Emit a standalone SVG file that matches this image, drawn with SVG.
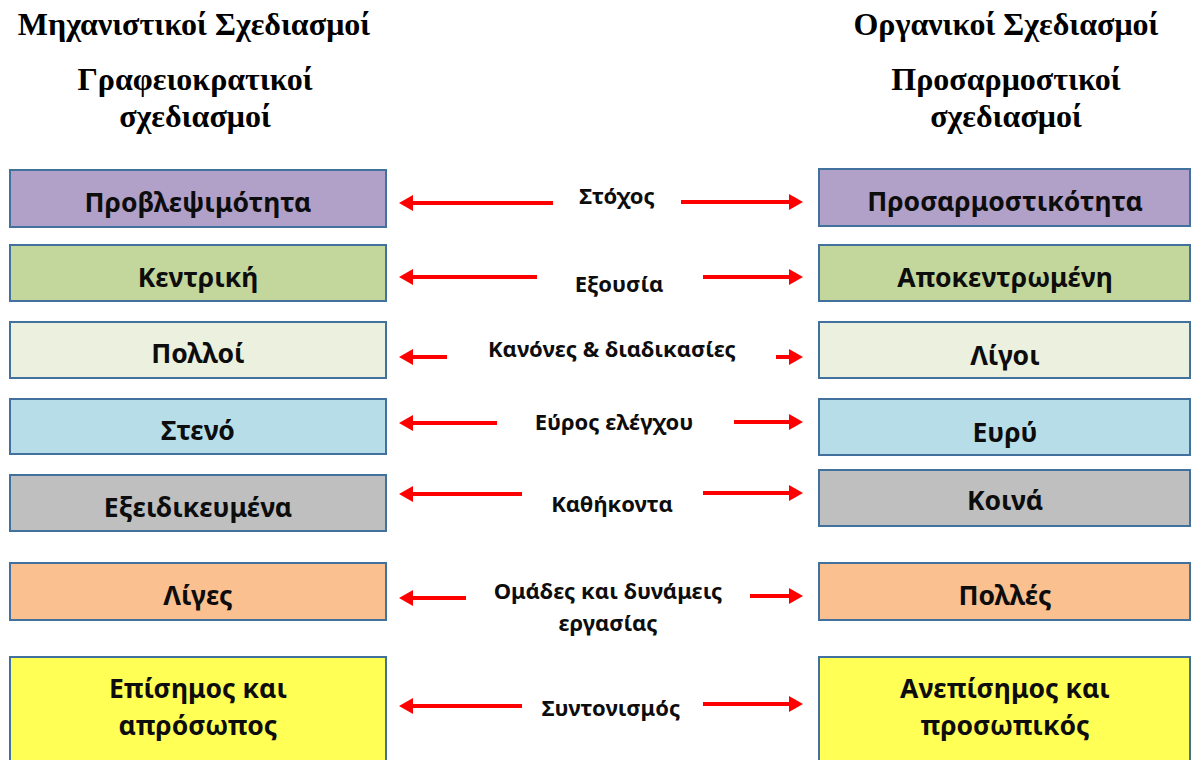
<svg xmlns="http://www.w3.org/2000/svg" width="1192" height="760" viewBox="0 0 1192 760">
  <style>
    .hdr { font-family: "Liberation Serif", "Times New Roman", serif; font-weight: bold; font-size: 32px; fill: #000; text-anchor: middle; }
    .box { stroke: #41719C; stroke-width: 2; }
    .lbl { font-family: "Noto Sans", "Open Sans", "DejaVu Sans", sans-serif; font-weight: bold; font-size: 26.5px; fill: #0D0D0D; text-anchor: middle; }
    .mid { font-family: "Noto Sans", "Open Sans", "DejaVu Sans", sans-serif; font-weight: bold; font-size: 22px; fill: #0D0D0D; text-anchor: middle; }
    .arr { stroke: #FF0000; stroke-width: 4; fill: none; marker-end: url(#head); }
    .purple { fill: #B1A0C7; }
    .green { fill: #C3D69B; }
    .pale { fill: #EBF1DE; }
    .blue { fill: #B7DEE8; }
    .grey { fill: #BFBFBF; }
    .orange { fill: #FAC090; }
    .yellow { fill: #FFFF55; }
  </style>
  <defs>
    <marker id="head" markerUnits="userSpaceOnUse" markerWidth="14" markerHeight="16" viewBox="0 0 14 16" refX="0" refY="8" orient="auto">
      <path d="M0,0 L14,8 L0,16 z" fill="#FF0000"/>
    </marker>
  </defs>
  <rect width="1192" height="760" fill="#FFFFFF"/>

  <!-- column headings -->
  <g id="heading-left">
    <text class="hdr" x="194" y="35">Μηχανιστικοί Σχεδιασμοί</text>
    <text class="hdr" x="195" y="90">Γραφειοκρατικοί</text>
    <text class="hdr" x="195" y="127">σχεδιασμοί</text>
  </g>
  <g id="heading-right">
    <text class="hdr" x="1006" y="35">Οργανικοί Σχεδιασμοί</text>
    <text class="hdr" x="1006" y="90">Προσαρμοστικοί</text>
    <text class="hdr" x="1006" y="127">σχεδιασμοί</text>
  </g>

  <!-- left column -->
  <g id="left-1"><rect class="box purple" x="10" y="170" width="376" height="57"/><text class="lbl" x="198" y="212">Προβλεψιμότητα</text></g>
  <g id="left-2"><rect class="box green" x="10" y="245" width="376" height="56"/><text class="lbl" x="198" y="287">Κεντρική</text></g>
  <g id="left-3"><rect class="box pale" x="10" y="322" width="376" height="56"/><text class="lbl" x="198" y="363">Πολλοί</text></g>
  <g id="left-4"><rect class="box blue" x="10" y="399" width="376" height="55"/><text class="lbl" x="198" y="440">Στενό</text></g>
  <g id="left-5"><rect class="box grey" x="10" y="475" width="376" height="56"/><text class="lbl" x="198" y="517">Εξειδικευμένα</text></g>
  <g id="left-6"><rect class="box orange" x="10" y="563" width="376" height="57"/><text class="lbl" x="198" y="605">Λίγες</text></g>
  <g id="left-7"><rect class="box yellow" x="10" y="657" width="376" height="110"/><text class="lbl" x="198" y="698">Επίσημος και</text><text class="lbl" x="198" y="735">απρόσωπος</text></g>

  <!-- right column -->
  <g id="right-1"><rect class="box purple" x="819" y="169" width="371" height="57"/><text class="lbl" x="1005" y="211">Προσαρμοστικότητα</text></g>
  <g id="right-2"><rect class="box green" x="819" y="245" width="371" height="56"/><text class="lbl" x="1005" y="287">Αποκεντρωμένη</text></g>
  <g id="right-3"><rect class="box pale" x="819" y="322" width="371" height="56"/><text class="lbl" x="1005" y="365">Λίγοι</text></g>
  <g id="right-4"><rect class="box blue" x="819" y="399" width="371" height="56"/><text class="lbl" x="1005" y="442">Ευρύ</text></g>
  <g id="right-5"><rect class="box grey" x="819" y="470" width="371" height="56"/><text class="lbl" x="1005" y="510">Κοινά</text></g>
  <g id="right-6"><rect class="box orange" x="819" y="563" width="371" height="57"/><text class="lbl" x="1005" y="605">Πολλές</text></g>
  <g id="right-7"><rect class="box yellow" x="819" y="657" width="371" height="110"/><text class="lbl" x="1005" y="698">Ανεπίσημος και</text><text class="lbl" x="1005" y="735">προσωπικός</text></g>

  <!-- dimension labels -->
  <g id="dimensions">
    <text class="mid" x="617" y="204">Στόχος</text>
    <text class="mid" x="619" y="292">Εξουσία</text>
    <text class="mid" x="612" y="357">Κανόνες &amp; διαδικασίες</text>
    <text class="mid" x="614" y="430">Εύρος ελέγχου</text>
    <text class="mid" x="612" y="512">Καθήκοντα</text>
    <text class="mid" x="608" y="599">Ομάδες και δυνάμεις</text>
    <text class="mid" x="608" y="631">εργασίας</text>
    <text class="mid" x="611" y="716">Συντονισμός</text>
  </g>

  <!-- connectors -->
  <g id="connectors">
    <path class="arr" d="M553,203 L413,203"/>
    <path class="arr" d="M681,202 L789,202"/>
    <path class="arr" d="M537,277 L413,277"/>
    <path class="arr" d="M703,277 L789,277"/>
    <path class="arr" d="M447,357 L413,357"/>
    <path class="arr" d="M776,357 L789,357"/>
    <path class="arr" d="M497,423 L413,423"/>
    <path class="arr" d="M734,422 L789,422"/>
    <path class="arr" d="M522,494 L413,494"/>
    <path class="arr" d="M703,493 L789,493"/>
    <path class="arr" d="M466,598 L413,598"/>
    <path class="arr" d="M750,596 L789,596"/>
    <path class="arr" d="M522,706 L413,706"/>
    <path class="arr" d="M703,704 L789,704"/>
  </g>
</svg>
